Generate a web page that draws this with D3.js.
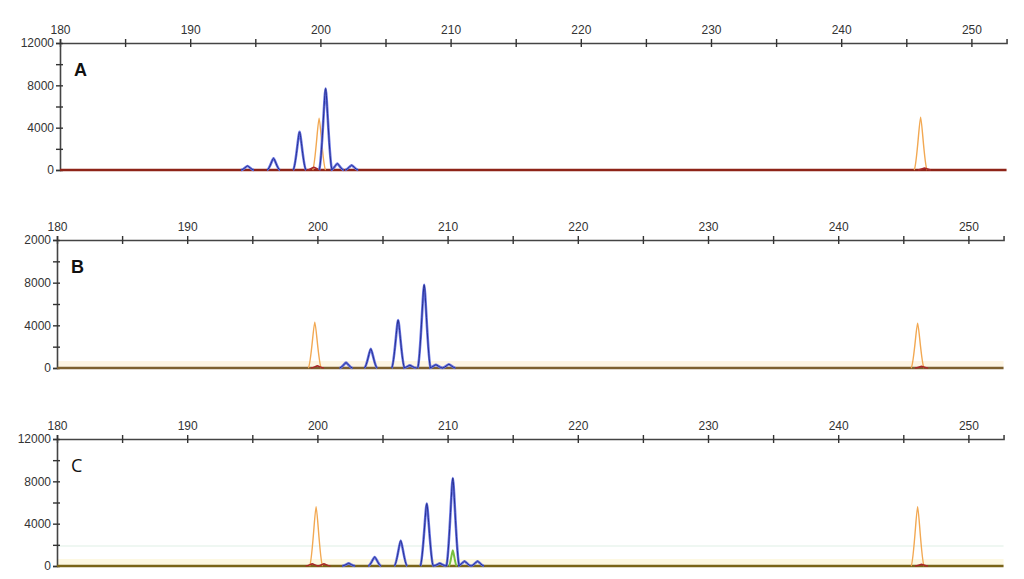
<!DOCTYPE html>
<html>
<head>
<meta charset="utf-8">
<script src="https://cdn.jsdelivr.net/npm/d3@7"></script>
<style>
  body { margin: 0; background: #fff; }
  svg { display: block; }
  .tick text { font-family: "Liberation Sans", Arial, sans-serif; font-size: 12px; fill: #333; }
</style>
</head>
<body>
<svg id="chart" width="1024" height="579"></svg>
<script>
// tick values and labels
const xTickValues = [180, 185, 190, 195, 200, 205, 210, 215, 220, 225, 230, 235, 240, 245, 250];
const xTickLabels = [180, 190, 200, 210, 220, 230, 240, 250];
const yTickValues = [0, 2000, 4000, 6000, 8000, 10000, 12000];
const yLabelsA = { 0: "0", 4000: "4000", 8000: "8000", 12000: "12000" };
const yLabelsB = { 0: "0", 4000: "4000", 8000: "8000", 12000: "2000" };
const yLabelsC = { 0: "0", 4000: "4000", 8000: "8000", 12000: "12000" };

// peaks: [size (bp), height (rfu)]
const blueA = [[194.4, 380], [196.4, 1100], [198.4, 3600], [200.4, 7700], [201.3, 600], [202.4, 450]];
const orangeA = [[199.9, 4900], [246.1, 5000]];
const redA = [[199.5, 250], [246.4, 180]];

const blueB = [[202.2, 500], [204.1, 1800], [206.2, 4500], [207.1, 250], [208.2, 7800], [209.1, 300], [210.1, 350]];
const orangeB = [[199.8, 4300], [246.1, 4200]];
const redB = [[200.0, 200], [246.4, 150]];

const blueC = [[202.4, 250], [204.4, 850], [206.4, 2400], [208.4, 5900], [209.4, 250], [210.4, 8300], [211.3, 450], [212.3, 450]];
const orangeC = [[199.9, 5600], [246.1, 5600]];
const greenC = [[210.4, 1500]];
const redC = [[199.6, 200], [200.5, 200], [246.4, 150]];

const panels = [
    { name: "A", top: 43, bottom: 170, left: 60, labels: yLabelsA, blue: blueA, orange: orangeA, red: redA, green: [], base: "#8e2418", bold: true },
    { name: "B", top: 240, bottom: 368, left: 57, labels: yLabelsB, blue: blueB, orange: orangeB, red: redB, green: [], base: "#7d6030", bold: true },
    { name: "C", top: 439, bottom: 566, left: 57, labels: yLabelsC, blue: blueC, orange: orangeC, red: redC, green: greenC, base: "#7a6418", bold: false }
];

const svg = d3.select("#chart");
const pxPerBp = 13.02;
const xMax = 252.7;

panels.forEach(p => {
    const x = d3.scaleLinear().domain([180, xMax]).range([p.left, p.left + (xMax - 180) * pxPerBp]);
    const y = d3.scaleLinear().domain([0, 12000]).range([p.bottom, p.top]);
    const g = svg.append("g");

    // faint bands near baseline
    if (p.name === "B") {
        g.append("rect").attr("x", x(180)).attr("width", x(xMax) - x(180))
            .attr("y", y(0) - 7).attr("height", 6).attr("fill", "#fdf5e4");
    }
    if (p.name === "C") {
        g.append("line").attr("x1", x(180)).attr("x2", x(xMax)).attr("y1", y(1900)).attr("y2", y(1900))
            .attr("stroke", "#eaf5ee").attr("stroke-width", 1.5);
        g.append("rect").attr("x", x(180)).attr("width", x(xMax) - x(180))
            .attr("y", y(0) - 7).attr("height", 6).attr("fill", "#fdf8e2");
    }

    // top axis, ticks crossing the line
    g.append("g")
        .attr("transform", `translate(0,${p.top})`)
        .call(d3.axisTop(x).tickValues(xTickValues).tickSize(4).tickPadding(5)
            .tickFormat(d => xTickLabels.includes(d) ? d : ""))
        .call(a => a.select(".domain").attr("stroke", "#444").attr("stroke-width", 1.6));
    g.append("g")
        .attr("transform", `translate(0,${p.top})`)
        .call(d3.axisBottom(x).tickValues(xTickValues).tickSize(4).tickFormat(""))
        .call(a => a.select(".domain").remove());

    // left axis
    g.append("g")
        .attr("transform", `translate(${p.left},0)`)
        .call(d3.axisLeft(y).tickValues(yTickValues).tickSize(4).tickPadding(2)
            .tickFormat(d => p.labels[d] || ""))
        .call(a => a.select(".domain").attr("stroke", "#444").attr("stroke-width", 1.6));
    g.append("g")
        .attr("transform", `translate(${p.left},0)`)
        .call(d3.axisRight(y).tickValues(yTickValues).tickSize(3).tickFormat(""))
        .call(a => a.select(".domain").remove());

    g.selectAll(".tick line").attr("stroke", "#333").attr("stroke-width", 1.4);

    // bell-shaped peak, narrow rounded top
    function peakPath(pk, w) {
        const path = d3.path();
        const y0 = y(0), yh = y(pk[1]);
        path.moveTo(x(pk[0] - w), y0);
        path.bezierCurveTo(x(pk[0] - w * 0.6), y(pk[1] * 0.05), x(pk[0] - w * 0.18), yh, x(pk[0]), yh);
        path.bezierCurveTo(x(pk[0] + w * 0.18), yh, x(pk[0] + w * 0.6), y(pk[1] * 0.05), x(pk[0] + w), y0);
        return path.toString();
    }

    // baseline
    g.append("line")
        .attr("x1", x(180)).attr("x2", x(xMax))
        .attr("y1", y(0)).attr("y2", y(0))
        .attr("stroke", p.base).attr("stroke-width", 2.6);

    g.selectAll(".orange").data(p.orange).enter().append("path")
        .attr("d", d => peakPath(d, 0.5))
        .attr("fill", "none").attr("stroke", "#f2a852").attr("stroke-width", 1.4);

    g.selectAll(".red").data(p.red).enter().append("path")
        .attr("d", d => peakPath(d, 0.5))
        .attr("fill", "none").attr("stroke", "#a82828").attr("stroke-width", 1.6);

    g.selectAll(".blueGlow").data(p.blue).enter().append("path")
        .attr("d", d => peakPath(d, 0.5))
        .attr("fill", "none").attr("stroke", "#6a76e4").attr("stroke-width", 2.6);
    g.selectAll(".blue").data(p.blue).enter().append("path")
        .attr("d", d => peakPath(d, 0.5))
        .attr("fill", "none").attr("stroke", "#263092").attr("stroke-width", 1);

    g.selectAll(".green").data(p.green).enter().append("path")
        .attr("d", d => peakPath(d, 0.3))
        .attr("fill", "none").attr("stroke", "#78c040").attr("stroke-width", 2);

    // panel letter
    g.append("text")
        .attr("x", p.left + 14)
        .attr("y", p.top + 33)
        .attr("font-family", p.bold ? "Liberation Sans, Arial, sans-serif" : "Open Sans, sans-serif")
        .attr("font-size", 18)
        .attr("font-weight", p.bold ? "bold" : "normal")
        .attr("fill", "#111")
        .text(p.name);
});
</script>
</body>
</html>
